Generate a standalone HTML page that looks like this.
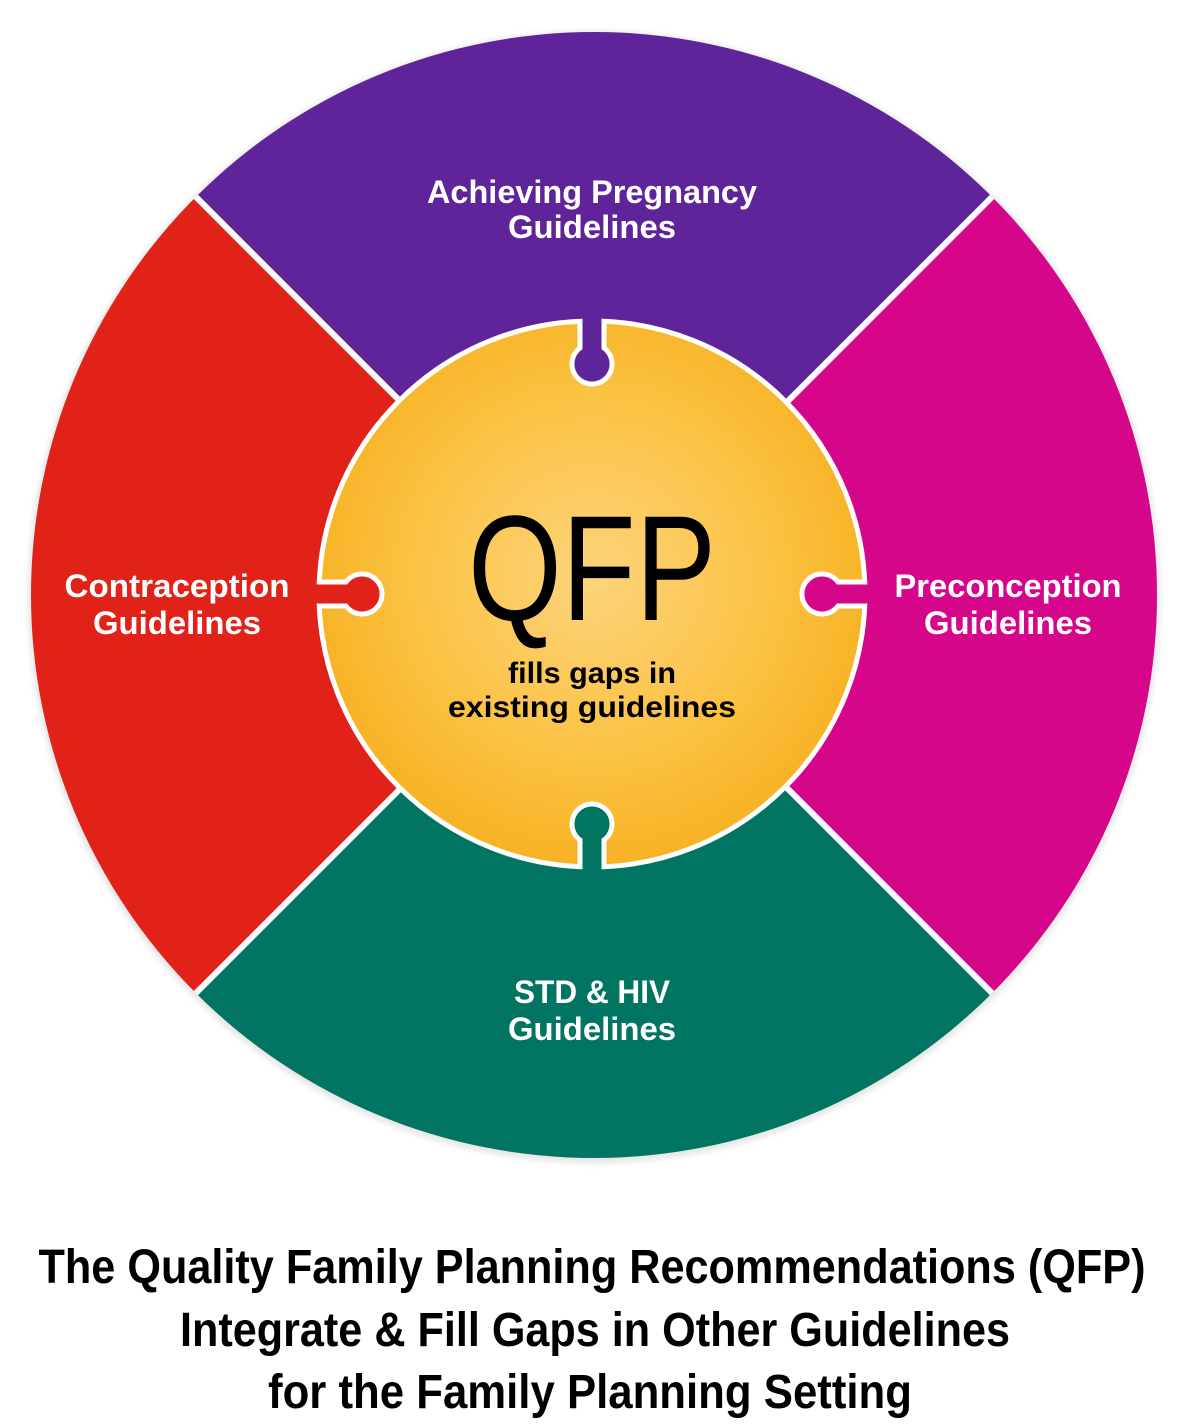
<!DOCTYPE html>
<html><head><style>html,body{margin:0;padding:0;background:#fff;}svg{display:block;}</style></head>
<body>
<svg width="1200" height="1426" viewBox="0 0 1200 1426" xmlns="http://www.w3.org/2000/svg">
<defs>
<radialGradient id="g" cx="0.5" cy="0.47" r="0.55">
<stop offset="0" stop-color="#fdd47c"/>
<stop offset="0.6" stop-color="#fbc243"/>
<stop offset="1" stop-color="#f7b020"/>
</radialGradient>
<filter id="sh" x="-5%" y="-5%" width="110%" height="110%"><feGaussianBlur stdDeviation="3"/></filter>
<clipPath id="cc"><circle cx="592" cy="594" r="271"/></clipPath>
</defs>
<circle cx="594" cy="597" r="566" fill="#e6e6e6" filter="url(#sh)"/>
<path d="M594 595 L195.9 196.9 A563 563 0 0 1 992.1 196.9 Z" fill="#5f249a"/>
<path d="M594 595 L992.1 196.9 A563 563 0 0 1 992.1 993.1 Z" fill="#d5068a"/>
<path d="M594 595 L992.1 993.1 A563 563 0 0 1 195.9 993.1 Z" fill="#017462"/>
<path d="M594 595 L195.9 993.1 A563 563 0 0 1 195.9 196.9 Z" fill="#e02219"/>
<g stroke="#fff" stroke-width="6">
<line x1="594" y1="595" x2="195.9" y2="196.9"/>
<line x1="594" y1="595" x2="992.1" y2="196.9"/>
<line x1="594" y1="595" x2="992.1" y2="993.1"/>
<line x1="594" y1="595" x2="195.9" y2="993.1"/>
</g>
<circle cx="592" cy="594" r="273" fill="url(#g)" stroke="#fff" stroke-width="5"/>
<g clip-path="url(#cc)" stroke="#fff" stroke-width="5">
<rect x="580" y="300" width="24" height="60" rx="6" fill="#5f249a"/>
<rect x="580" y="828" width="24" height="60" rx="6" fill="#017462"/>
<rect x="300" y="582" width="60" height="24" rx="6" fill="#e02219"/>
<rect x="824" y="582" width="60" height="24" rx="6" fill="#d5068a"/>
<circle cx="592" cy="364" r="20" fill="#5f249a"/>
<circle cx="592" cy="824" r="20" fill="#017462"/>
<circle cx="362" cy="594" r="20" fill="#e02219"/>
<circle cx="822" cy="594" r="20" fill="#d5068a"/>
</g>
<rect x="582.5" y="305" width="19" height="58" fill="#5f249a"/>
<rect x="582.5" y="826" width="19" height="58" fill="#017462"/>
<rect x="305" y="584.5" width="58" height="19" fill="#e02219"/>
<rect x="822" y="584.5" width="58" height="19" fill="#d5068a"/>
<circle cx="592" cy="364" r="17.5" fill="#5f249a"/>
<circle cx="592" cy="824" r="17.5" fill="#017462"/>
<circle cx="362" cy="594" r="17.5" fill="#e02219"/>
<circle cx="822" cy="594" r="17.5" fill="#d5068a"/>
<g font-family="Liberation Sans, sans-serif" font-weight="bold" fill="#fff" font-size="32" text-anchor="middle">
<text x="592" y="203" textLength="330" lengthAdjust="spacingAndGlyphs">Achieving Pregnancy</text>
<text x="592" y="238" textLength="168" lengthAdjust="spacingAndGlyphs">Guidelines</text>
<text x="177" y="597" textLength="225" lengthAdjust="spacingAndGlyphs">Contraception</text>
<text x="177" y="634" textLength="168" lengthAdjust="spacingAndGlyphs">Guidelines</text>
<text x="1008" y="597" textLength="227" lengthAdjust="spacingAndGlyphs">Preconception</text>
<text x="1008" y="634" textLength="168" lengthAdjust="spacingAndGlyphs">Guidelines</text>
<text x="592" y="1003" textLength="156" lengthAdjust="spacingAndGlyphs">STD &amp; HIV</text>
<text x="592" y="1040" textLength="168" lengthAdjust="spacingAndGlyphs">Guidelines</text>
</g>
<g font-family="Liberation Sans, sans-serif" fill="#000" text-anchor="middle">
<text x="592" y="620" font-size="150" textLength="248" lengthAdjust="spacingAndGlyphs">QFP</text>
<text x="592" y="683" font-size="30" font-weight="bold" textLength="168" lengthAdjust="spacingAndGlyphs">fills gaps in</text>
<text x="592" y="717" font-size="30" font-weight="bold" textLength="288" lengthAdjust="spacingAndGlyphs">existing guidelines</text>
<text x="592" y="1283" font-size="48" font-weight="bold" textLength="1107" lengthAdjust="spacingAndGlyphs">The Quality Family Planning Recommendations (QFP)</text>
<text x="595" y="1346" font-size="48" font-weight="bold" textLength="830" lengthAdjust="spacingAndGlyphs">Integrate &amp; Fill Gaps in Other Guidelines</text>
<text x="590" y="1408" font-size="48" font-weight="bold" textLength="644" lengthAdjust="spacingAndGlyphs">for the Family Planning Setting</text>
</g>
</svg>
</body></html>
